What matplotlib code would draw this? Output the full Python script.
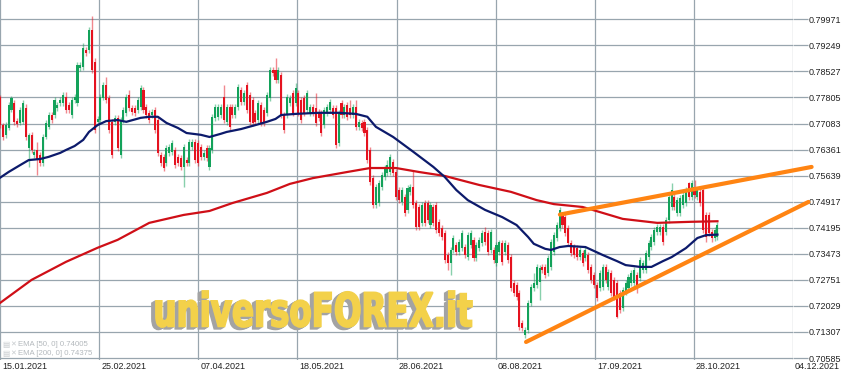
import numpy as np
import matplotlib
matplotlib.use("Agg")
import matplotlib.pyplot as plt
from matplotlib.textpath import TextPath
from matplotlib.patches import PathPatch
from matplotlib.font_manager import FontProperties
from matplotlib.transforms import Affine2D, blended_transform_factory

plt.rcParams['font.family'] = ['Liberation Sans', 'DejaVu Sans']

# ---------------- data ----------------
opens = [
 .7782,.7704,.7677,.7696,.7746,.7765,.7715,.7710,.7713,.7751,
 .7641,.7677,.7621,.7635,.7621,.7599,.7671,.7699,.7732,.7732,
 .7752,.7765,.7765,.7782,.7760,.7732,.7774,.7765,.7863,.7865,
 .7912,.7912,.7968,.7879,.7713,.7718,.7779,.7815,.7779,.7713,
 .7713,.7724,.7621,.7718,.7738,.7788,.7752,.7752,.7746,.7754,
 .7801,.7754,.7738,.7732,.7746,.7718,.7621,.7616,.7599,.7627,
 .7630,.7635,.7616,.7613,.7588,.7607,.7599,.7644,.7658,.7655,
 .7644,.7616,.7641,.7588,.7635,.7724,.7727,.7732,.7782,.7713,
 .7754,.7754,.7732,.7754,.7801,.7768,.7815,.7788,.7774,.7738,
 .7718,.7760,.7746,.7738,.7779,.7857,.7857,.7829,.7843,.7732,
 .7732,.7765,.7793,.7765,.7793,.7774,.7779,.7746,.7738,.7754,
 .7751,.7741,.7738,.7704,.7738,.7746,.7751,.7751,.7655,.7765,
 .7732,.7760,.7751,.7732,.7754,.7699,.7710,.7713,.7690,.7635,
 .7557,.7483,.7488,.7532,.7560,.7571,.7574,.7602,.7574,.7524,
 .7491,.7505,.7469,.7519,.7532,.7488,.7477,.7433,.7488,.7488,
 .7427,.7477,.7483,.7436,.7419,.7405,.7344,.7322,.7358,.7372,
 .7352,.7363,.7366,.7338,.7372,.7386,.7336,.7363,.7377,.7408,
 .7405,.7358,.7358,.7322,.7352,.7377,.7352,.7372,.7338,.7267,
 .7261,.7239,.7156,.7123,.7136,.7211,.7253,.7261,.7269,.7311,
 .7311,.7294,.7311,.7352,.7391,.7419,.7455,.7450,.7419,.7377,
 .7366,.7363,.7338,.7350,.7336,.7344,.7311,.7289,.7261,.7253,
 .7256,.7311,.7256,.7294,.7275,.7266,.7239,.7197,.7242,.7253,
 .7267,.7267,.7289,.7280,.7302,.7302,.7338,.7366,.7380,.7408,
 .7408,.7422,.7408,.7441,.7477,.7505,.7460,.7460,.7483,.7488,
 .7544,.7505,.7532,.7505,.7519,.7524,.7455,.7455,.7408,.7391,
 .7394]
highs = [
 .7787,.7710,.7713,.7768,.7785,.7774,.7724,.7754,.7774,.7762,
 .7682,.7685,.7638,.7658,.7630,.7680,.7718,.7741,.7741,.7782,
 .7768,.7782,.7796,.7796,.7768,.7782,.7791,.7879,.7879,.7932,
 .7921,.7976,.8006,.7890,.7730,.7791,.7824,.7837,.7787,.7721,
 .7732,.7732,.7727,.7754,.7791,.7801,.7760,.7760,.7782,.7815,
 .7810,.7763,.7746,.7749,.7754,.7727,.7630,.7624,.7649,.7652,
 .7663,.7644,.7624,.7621,.7652,.7616,.7666,.7666,.7666,.7663,
 .7652,.7635,.7649,.7649,.7735,.7763,.7763,.7763,.7815,.7763,
 .7763,.7763,.7763,.7818,.7810,.7801,.7824,.7796,.7782,.7746,
 .7774,.7768,.7754,.7796,.7865,.7865,.7890,.7865,.7851,.7741,
 .7791,.7787,.7801,.7821,.7801,.7782,.7787,.7801,.7763,.7763,
 .7793,.7749,.7746,.7754,.7763,.7777,.7760,.7760,.7746,.7774,
 .7763,.7768,.7774,.7763,.7774,.7721,.7718,.7721,.7699,.7644,
 .7566,.7541,.7552,.7574,.7594,.7607,.7624,.7610,.7582,.7532,
 .7532,.7513,.7538,.7541,.7580,.7496,.7485,.7491,.7496,.7496,
 .7491,.7485,.7491,.7444,.7427,.7413,.7352,.7366,.7399,.7380,
 .7388,.7413,.7375,.7408,.7413,.7394,.7380,.7394,.7413,.7422,
 .7413,.7416,.7366,.7380,.7386,.7386,.7386,.7380,.7347,.7275,
 .7269,.7247,.7164,.7145,.7219,.7264,.7294,.7319,.7316,.7319,
 .7319,.7344,.7388,.7408,.7436,.7477,.7463,.7458,.7427,.7386,
 .7375,.7372,.7366,.7358,.7366,.7352,.7319,.7297,.7269,.7302,
 .7319,.7319,.7305,.7302,.7283,.7275,.7247,.7256,.7275,.7292,
 .7302,.7311,.7297,.7338,.7330,.7358,.7386,.7402,.7422,.7430,
 .7430,.7430,.7449,.7513,.7544,.7513,.7505,.7510,.7519,.7532,
 .7546,.7552,.7552,.7532,.7527,.7532,.7463,.7463,.7416,.7422,
 .7436]
lows = [
 .7696,.7663,.7668,.7690,.7740,.7704,.7699,.7704,.7707,.7663,
 .7588,.7627,.7613,.7566,.7591,.7591,.7666,.7693,.7710,.7724,
 .7743,.7757,.7757,.7738,.7738,.7724,.7765,.7757,.7854,.7857,
 .7896,.7904,.7849,.7682,.7704,.7710,.7774,.7765,.7682,.7613,
 .7704,.7632,.7613,.7710,.7730,.7743,.7732,.7730,.7738,.7746,
 .7738,.7724,.7710,.7724,.7682,.7619,.7591,.7577,.7591,.7619,
 .7621,.7585,.7591,.7580,.7533,.7591,.7591,.7635,.7599,.7591,
 .7607,.7607,.7605,.7580,.7627,.7715,.7718,.7724,.7710,.7704,
 .7690,.7724,.7724,.7746,.7760,.7760,.7738,.7704,.7702,.7704,
 .7710,.7702,.7702,.7730,.7771,.7840,.7821,.7821,.7724,.7682,
 .7724,.7757,.7730,.7757,.7730,.7710,.7730,.7738,.7730,.7730,
 .7702,.7715,.7674,.7696,.7730,.7738,.7724,.7641,.7646,.7724,
 .7724,.7718,.7724,.7724,.7690,.7690,.7688,.7674,.7599,.7538,
 .7474,.7474,.7480,.7524,.7552,.7563,.7566,.7563,.7496,.7488,
 .7483,.7452,.7460,.7510,.7474,.7413,.7413,.7424,.7424,.7433,
 .7419,.7424,.7405,.7397,.7386,.7322,.7302,.7289,.7350,.7344,
 .7344,.7355,.7336,.7330,.7363,.7327,.7327,.7355,.7369,.7372,
 .7344,.7350,.7322,.7313,.7344,.7316,.7344,.7322,.7245,.7231,
 .7219,.7136,.7134,.7114,.7128,.7203,.7245,.7253,.7219,.7294,
 .7280,.7286,.7302,.7344,.7383,.7411,.7419,.7397,.7369,.7341,
 .7336,.7330,.7330,.7313,.7327,.7294,.7266,.7253,.7217,.7245,
 .7247,.7266,.7247,.7231,.7219,.7169,.7183,.7189,.7233,.7245,
 .7258,.7258,.7239,.7272,.7294,.7294,.7330,.7358,.7372,.7399,
 .7399,.7372,.7399,.7433,.7469,.7469,.7452,.7452,.7474,.7480,
 .7496,.7496,.7502,.7496,.7480,.7405,.7380,.7397,.7380,.7383,
 .7386]
closes = [
 .7704,.7671,.7704,.7760,.7779,.7713,.7707,.7746,.7765,.7671,
 .7677,.7635,.7630,.7607,.7599,.7671,.7710,.7732,.7718,.7774,
 .7760,.7774,.7788,.7746,.7746,.7774,.7782,.7871,.7871,.7918,
 .7904,.7968,.7857,.7690,.7721,.7782,.7815,.7774,.7690,.7621,
 .7724,.7641,.7718,.7746,.7782,.7752,.7741,.7738,.7774,.7807,
 .7746,.7732,.7718,.7741,.7690,.7627,.7599,.7585,.7641,.7644,
 .7655,.7594,.7599,.7588,.7644,.7599,.7658,.7658,.7607,.7599,
 .7616,.7627,.7613,.7641,.7727,.7754,.7754,.7754,.7718,.7754,
 .7699,.7732,.7754,.7810,.7768,.7793,.7746,.7713,.7710,.7713,
 .7765,.7710,.7710,.7788,.7857,.7848,.7829,.7857,.7732,.7690,
 .7782,.7779,.7738,.7807,.7738,.7718,.7738,.7793,.7754,.7738,
 .7710,.7724,.7682,.7746,.7754,.7768,.7732,.7649,.7738,.7732,
 .7754,.7727,.7732,.7754,.7699,.7713,.7696,.7682,.7607,.7546,
 .7483,.7532,.7544,.7566,.7585,.7594,.7616,.7571,.7505,.7496,
 .7524,.7460,.7530,.7532,.7483,.7422,.7422,.7483,.7433,.7441,
 .7483,.7433,.7413,.7405,.7394,.7330,.7322,.7358,.7391,.7352,
 .7380,.7405,.7344,.7399,.7405,.7336,.7372,.7386,.7405,.7380,
 .7352,.7408,.7330,.7372,.7380,.7325,.7377,.7330,.7253,.7239,
 .7228,.7145,.7142,.7136,.7211,.7256,.7267,.7311,.7308,.7302,
 .7289,.7336,.7380,.7399,.7427,.7469,.7427,.7405,.7377,.7350,
 .7344,.7338,.7358,.7322,.7358,.7302,.7275,.7261,.7225,.7294,
 .7311,.7275,.7297,.7239,.7228,.7172,.7192,.7247,.7267,.7283,
 .7294,.7302,.7253,.7330,.7322,.7350,.7377,.7394,.7413,.7422,
 .7422,.7380,.7441,.7505,.7524,.7477,.7496,.7502,.7510,.7524,
 .7505,.7544,.7510,.7524,.7488,.7413,.7394,.7405,.7391,.7413,
 .7427]

# EMA curves (bar index, value)
ema50_x = [0, 3, 7, 10, 14, 17, 21, 23, 26, 29, 31, 34, 37, 41, 44, 49, 52, 55,
           58, 62, 65, 70, 73, 77, 79, 84, 89, 93, 96, 98, 103, 111, 118, 124,
           128, 131, 137, 144, 151, 155, 159, 163, 169, 175, 180, 184, 186, 190,
           192, 195, 198, 204, 210, 215, 218, 223, 227, 231, 234, 239, 243, 246, 250]
ema50 = [0.7558, 0.7574, 0.7593, 0.7607, 0.7610, 0.7616, 0.7627, 0.7635, 0.7646,
         0.7663, 0.7685, 0.7704, 0.7715, 0.7718, 0.7713, 0.7724, 0.7727, 0.7727,
         0.7710, 0.7696, 0.7682, 0.7677, 0.7671, 0.7680, 0.7685, 0.7693, 0.7704,
         0.7713, 0.7721, 0.7732, 0.7735, 0.7738, 0.7738, 0.7735, 0.7727, 0.7699,
         0.7671, 0.7630, 0.7588, 0.7560, 0.7524, 0.7496, 0.7469, 0.7449, 0.7427,
         0.7394, 0.7375, 0.7361, 0.7358, 0.7366, 0.7369, 0.7366, 0.7344, 0.7327,
         0.7316, 0.7311, 0.7311, 0.7327, 0.7338, 0.7363, 0.7391, 0.7399, 0.74005]
ema200_x = [0, 11, 23, 34, 41, 52, 64, 73, 81, 93, 101, 109, 121, 129, 138, 146,
            155, 167, 178, 187, 193, 203, 209, 217, 229, 241, 250]
ema200 = [0.7211, 0.7275, 0.7325, 0.7364, 0.7386, 0.7433, 0.7455, 0.7466, 0.7488,
          0.7516, 0.7541, 0.7557, 0.7574, 0.7585, 0.7585, 0.7574, 0.7563, 0.7538,
          0.7519, 0.7496, 0.7485, 0.7477, 0.7463, 0.7444, 0.7433, 0.7436, 0.74375]

# trend lines drawn on the chart
trend_lower_x = [183.3, 281.7]
trend_lower_y = [0.7103, 0.7491]
trend_upper_x = [195.1, 282.8]
trend_upper_y = [0.7456, 0.7588]

date_labels = ['15.01.2021', '25.02.2021', '07.04.2021', '18.05.2021', '28.06.2021',
               '08.08.2021', '17.09.2021', '28.10.2021', '04.12.2021']
price_ticks = [0.70585, 0.71307, 0.72029, 0.72751, 0.73473, 0.74195, 0.74917,
               0.75639, 0.76361, 0.77083, 0.77805, 0.78527, 0.79249, 0.79971]
legend_lines = ['EMA [50, 0] 0.74005', 'EMA [200, 0] 0.74375']
watermark = 'universoFOREX.it'

# ---------------- layout ----------------
W, H = 850, 375
BARS_PER_GRID = 34.54
GRID = '#98a5ae'
GREEN = '#13a25a'
RED = '#e5121f'

fig = plt.figure(figsize=(W / 100, H / 100), dpi=100)
fig.patch.set_facecolor('white')
ax = fig.add_axes([0, 15 / H, 793 / W, 1 - 15 / H])
ax.set_xlim(0, 8 * BARS_PER_GRID)
ax.set_ylim(0.70530, 0.80506)
for s in ax.spines.values():
    s.set_visible(False)

ax.set_yticks(price_ticks)
ax.set_yticklabels([f'{v:.5f}' for v in price_ticks])
ax.yaxis.tick_right()
ax.tick_params(axis='y', length=10.8, width=0.9, color=GRID, pad=0.8,
               labelsize=6.5, labelcolor='#222222')
ax.set_xticks([k * BARS_PER_GRID for k in range(len(date_labels))])
ax.set_xticklabels([])
ax.tick_params(axis='x', length=0)
ax.grid(True, color=GRID, lw=0.9)
ax.set_axisbelow(True)

trans = blended_transform_factory(ax.transData, ax.transAxes)
for k, lab in enumerate(date_labels):
    ax.annotate(lab, xy=(k * BARS_PER_GRID, 0), xycoords=trans, xytext=(1.5, -4.6),
                textcoords='offset points', ha='left', va='center', fontsize=6.5,
                color='#222222', annotation_clip=False)

# watermark
fp = FontProperties(family='Liberation Sans Narrow', weight='bold')
tp = TextPath((0, 0), watermark, prop=fp, size=40)
ext = tp.get_extents()
wx0, wx1, wtop, wbase = 156, 472, 291, 327
sx = (wx1 - wx0) / ext.width
sy = (wbase - wtop) / ext.height


def wm_trans(dx, dy):
    return (Affine2D().translate(-ext.x0, -ext.y0).scale(sx, sy)
            .translate(wx0 + dx, H - wbase + dy).scale(1 / 100) + fig.dpi_scale_trans)


for d in [4, 3, 2, 1]:
    ax.add_patch(PathPatch(tp, transform=wm_trans(-d, -0.6 * d), fc='#a3a3a3',
                           ec='#a3a3a3', lw=1.3, zorder=1.5, clip_on=False))
ax.add_patch(PathPatch(tp, transform=wm_trans(0, 0), fc='#f3d14a', ec='#f3d14a',
                       lw=1.3, zorder=1.6, clip_on=False))

# candles
o = np.array(opens); c = np.array(closes); h = np.array(highs); l = np.array(lows)
x = np.arange(len(o))
cols = np.where(c >= o, GREEN, RED)
ax.vlines(x, l, h, colors=cols, lw=1.0, alpha=0.5, zorder=3)
body_bottom = np.minimum(o, c)
body_h = np.maximum(np.abs(c - o), 0.00015)
ax.bar(x, body_h, bottom=body_bottom, width=0.72, color=cols, lw=0, zorder=4)

# EMAs
ax.plot(ema200_x, ema200, color='#cf0f17', lw=1.6, zorder=5)
ax.plot(ema50_x, ema50, color='#0c1a6b', lw=1.6, zorder=5)

# trend lines
ax.plot(trend_lower_x, trend_lower_y, color='#ff8412', lw=3.0, zorder=6,
        clip_on=False, solid_capstyle='round')
ax.plot(trend_upper_x, trend_upper_y, color='#ff8412', lw=3.0, zorder=6,
        clip_on=False, solid_capstyle='round')

# legend (bottom-left)
for i, line in enumerate(legend_lines):
    yy = (H - (344 + 9.5 * i)) / H
    fig.text(2 / W, yy, '\u25a4', fontsize=5.5, color='#c6cacd', va='center',
             family=['DejaVu Sans'])
    fig.text(10 / W, yy, '\u2715', fontsize=5.0, color='#c6cacd', va='center',
             family=['DejaVu Sans'])
    fig.text(18 / W, yy, line, fontsize=5.6, color='#b4b9bd', va='center')

fig.savefig('out.png', dpi=100, facecolor='white')
